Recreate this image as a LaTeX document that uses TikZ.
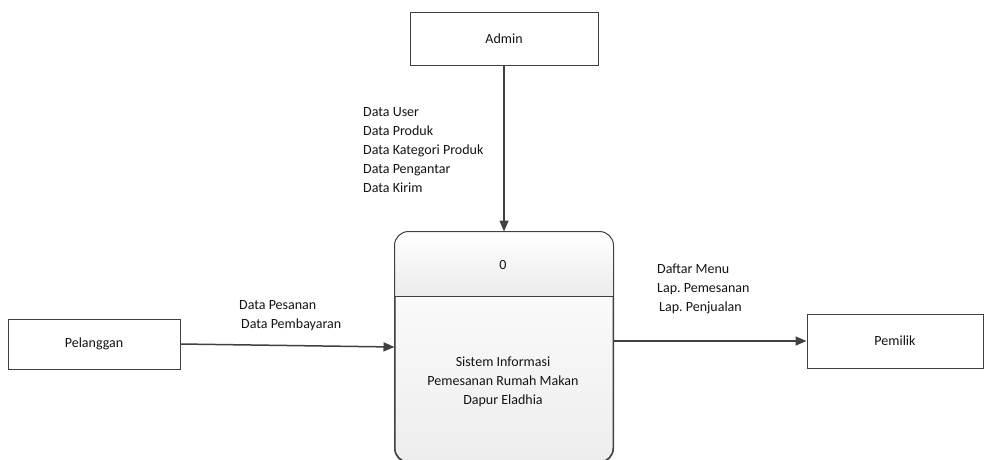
\documentclass[tikz,border=0pt]{standalone}
\usepackage{fontspec}
\setmainfont{Carlito}
\frenchspacing
\usetikzlibrary{arrows.meta,calc}
\definecolor{ln}{RGB}{64,64,64}
\definecolor{tx}{RGB}{20,20,20}
\tikzset{
  x=1pt,y=-1pt,
  ent/.style={draw=ln,line width=1pt,fill=white,text=tx,font=\fontsize{14}{19}\selectfont},
  proc/.style={draw=ln,line width=1pt,rounded corners=14pt,minimum width=218pt,minimum height=230pt,inner sep=0pt,top color=white,bottom color=gray!14},
  flow/.style={draw=ln,line width=1.5pt,-{Triangle[length=11pt,width=9pt]}},
  lbl/.style={text=tx,font=\fontsize{14}{19}\selectfont,inner sep=0pt,align=left,anchor=base west},
  ctr/.style={text=tx,font=\fontsize{14}{19}\selectfont,inner sep=0pt,align=center}
}
\begin{document}
\begin{tikzpicture}
\useasboundingbox (0,0) rectangle (985,459);
\clip (0,0) rectangle (985,459);
\node[ent,minimum width=188pt,minimum height=53pt] (admin) at (504,38.5) {Admin};
\node[ent,minimum width=172pt,minimum height=50pt] (pel) at (94,344) {Pelanggan};
\node[ent,minimum width=176pt,minimum height=54pt] (pem) at (895,341) {Pemilik};
\node[proc] (p) at (504,347) {};
\begin{scope}
  \clip[rounded corners=14pt] (p.north west) rectangle (p.south east);
  \shade[top color=white,bottom color=gray!16] (p.north west) rectangle ($(p.north east)+(0,65)$);
\end{scope}
\draw[ln,line width=1pt] ($(p.north west)+(0,65)$) coordinate (dl) -- ($(p.north east)+(0,65)$) coordinate (dr);
\draw[ln,line width=1pt,rounded corners=14pt] (p.north west) rectangle (p.south east);
\node[ctr] (pnum) at (503,265) {0};
\node[ctr] (pname) at (503,382) {Sistem Informasi\\Pemesanan Rumah Makan\\Dapur Eladhia};
\draw[flow] (admin.south) -- (p.north);
\draw[flow] (pel.east) -- (p.west);
\draw[flow] (p.east |- pem.west) -- (pem.west);
\node[lbl] (l1) at (363,192.5) {Data User\\Data Produk\\Data Kategori Produk\\Data Pengantar\\Data Kirim};
\node[lbl] (l2) at (239,328.5) {Data Pesanan\\\hspace{2pt}Data Pembayaran};
\node[lbl] (l3) at (657,311) {Daftar Menu\\Lap. Pemesanan\\\hspace{2pt}Lap. Penjualan};
\end{tikzpicture}
\end{document}
